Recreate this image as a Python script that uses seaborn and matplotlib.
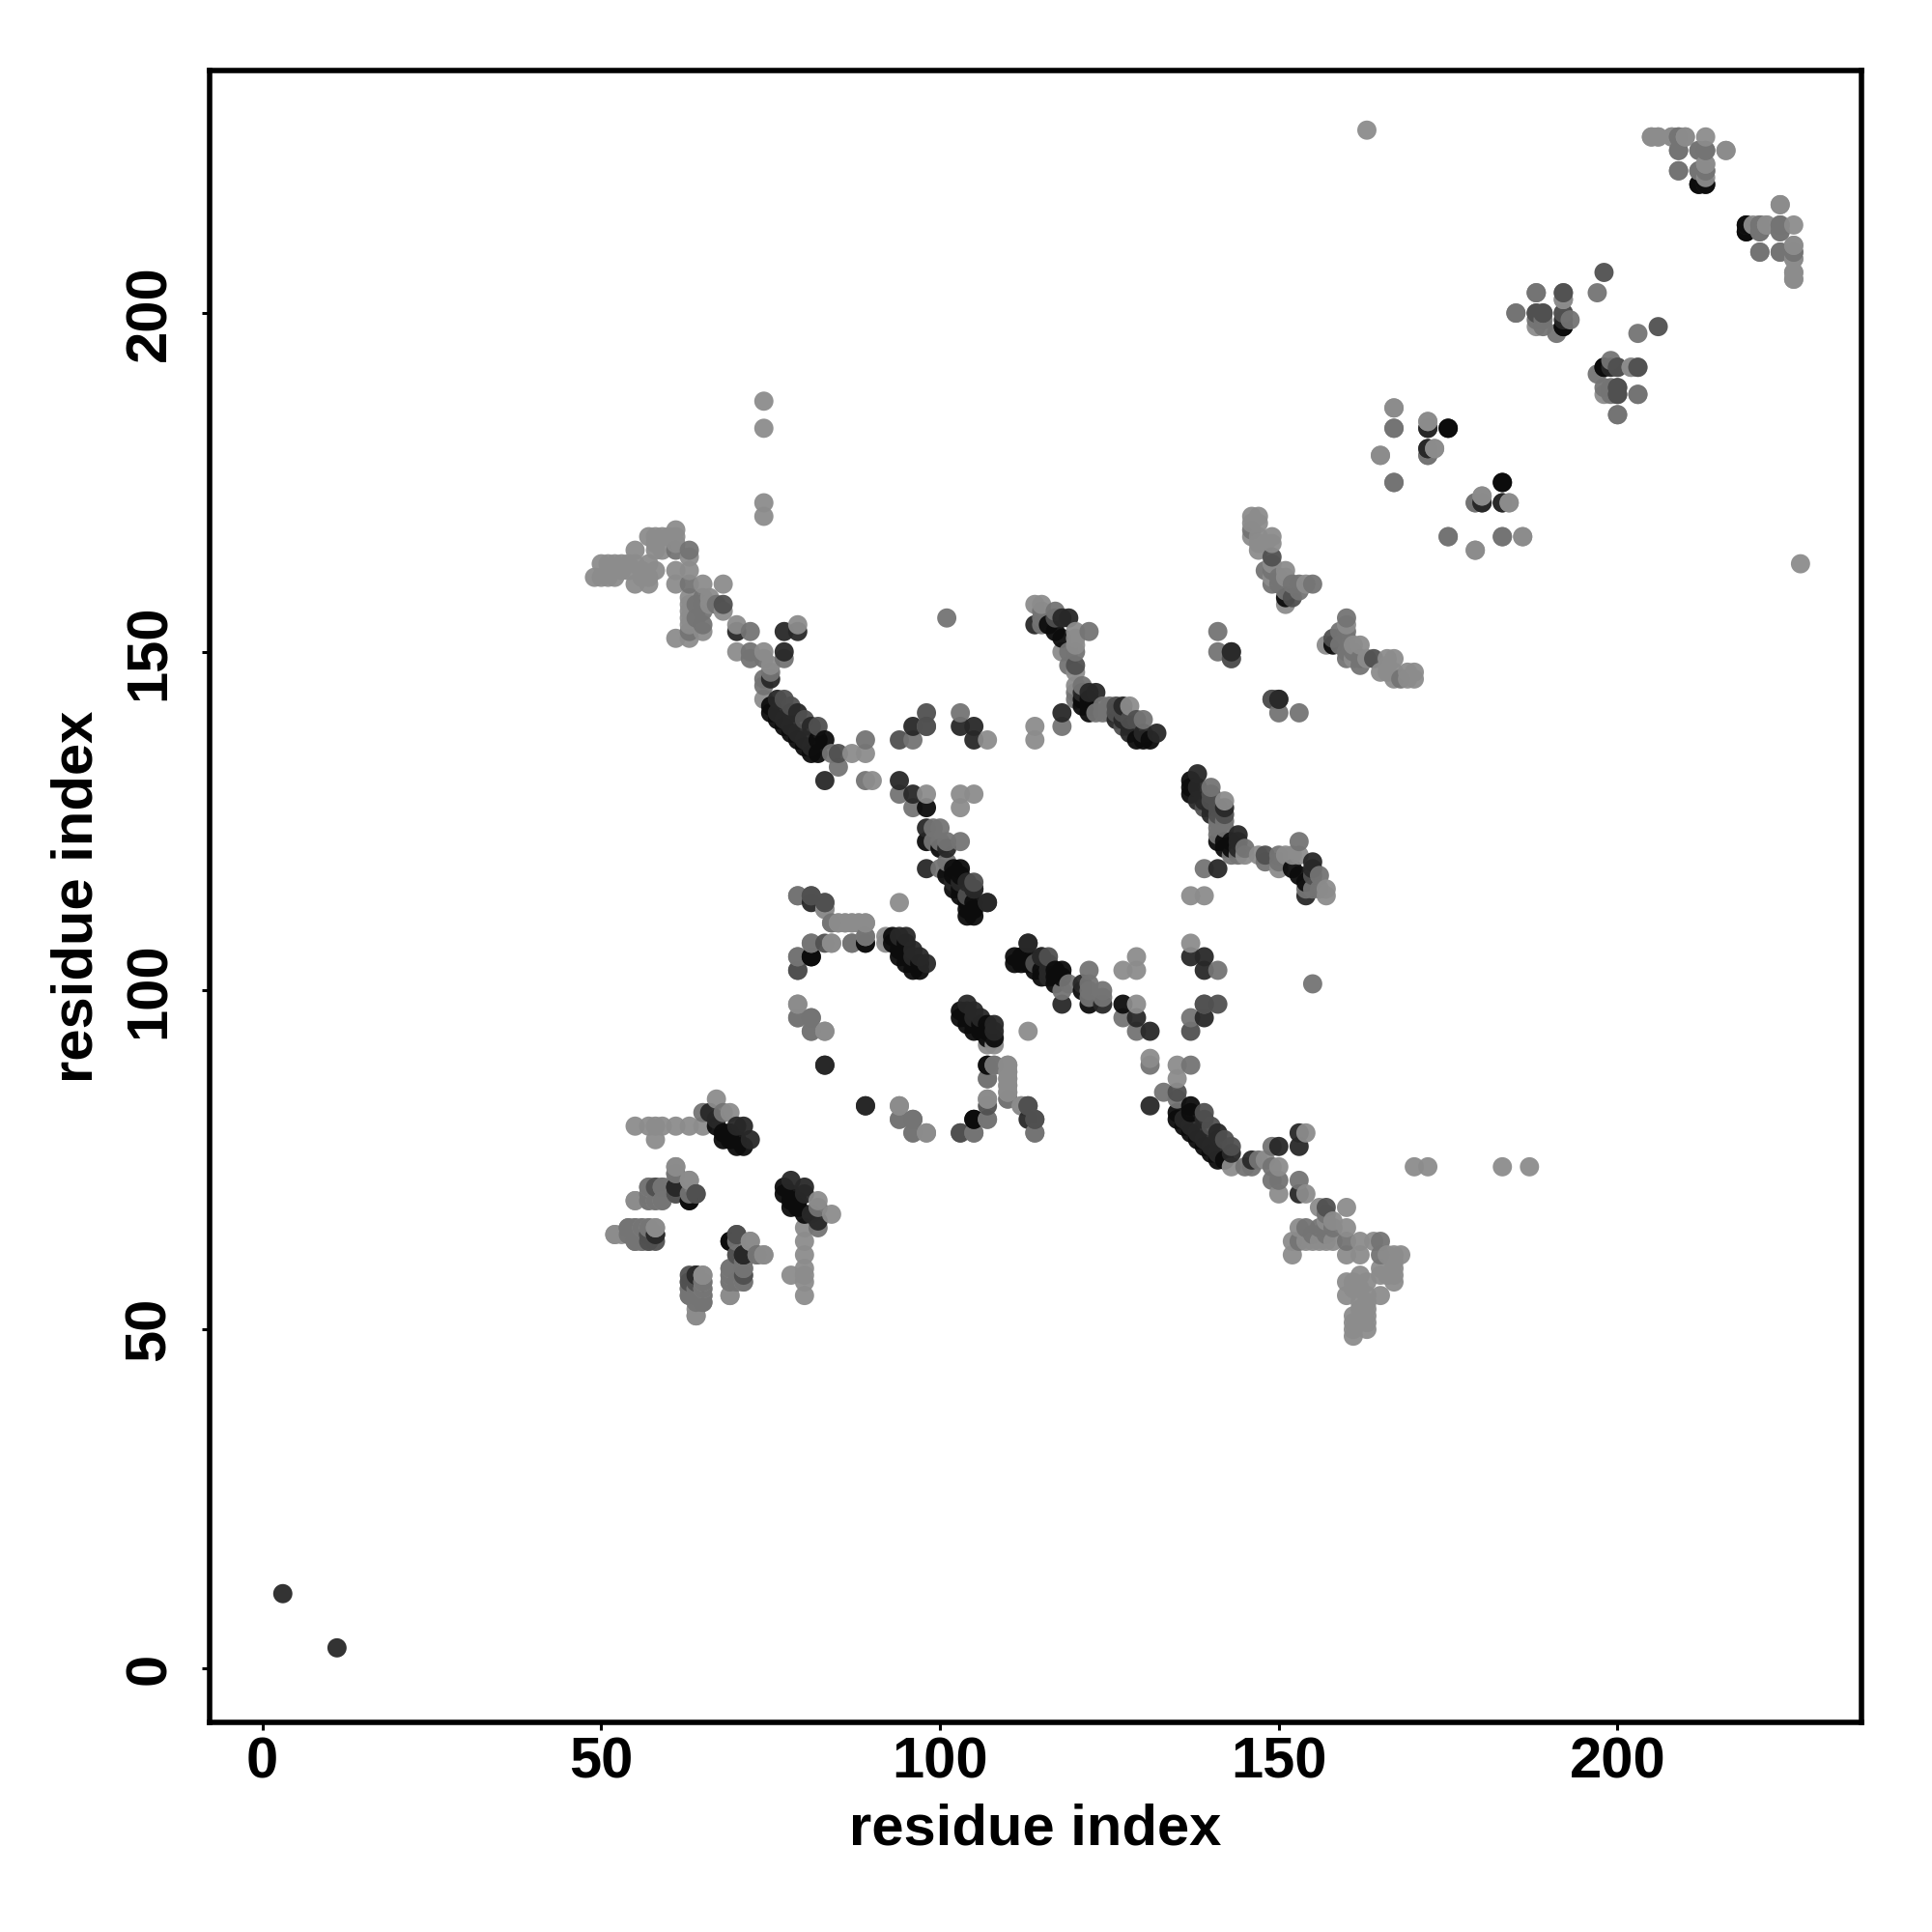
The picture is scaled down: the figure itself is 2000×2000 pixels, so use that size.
import pandas as pd
import seaborn as sns
import matplotlib.pyplot as plt

# contacts (i, j) with i < j, grouped by grey level
light = [
    (74,170),(74,172),(74,183),(74,187),(61,168),(57,167),(58,167),(59,167),(60,167),(55,165),(58,166),(59,165),(58,165),
    (50,163),(51,163),(52,163),(53,163),(49,161),(50,161),(51,161),(52,161),(55,160),(57,160),(56,162),(58,162),(57,161),(56,161),
    (53,162),(54,162),(57,163),(54,163),(55,163),(61,160),(61,162),(63,162),(63,164),(61,166),(61,167),(65,160),(68,160),
    (63,158),(63,157),(63,156),(63,155),(66,158),(68,156),(63,154),(61,152),(63,152),(65,153),(70,154),(70,150),(66,157),
    (74,150),(79,154),(75,148),(74,143),(87,135),(89,135),(90,131),(98,129),(103,129),(103,127),
    (107,137),(114,139),(114,137),(84,110),(85,110),(86,110),(87,110),(88,110),(89,110),(83,112),(94,113),
    (84,107),(81,107),(89,108),(92,108),(92,107),(79,98),(79,96),(83,94),(94,83),(94,81),(98,79),
    (107,84),(110,89),(110,88),(110,87),(110,86),(110,85),(112,83),(55,80),(57,80),(58,80),(59,80),(61,80),(63,80),(65,80),
    (58,78),(67,84),(69,82),(61,74),(63,72),(57,71),(55,69),(57,69),(52,64),(58,65),(72,63),(70,61),(74,61),
    (69,59),(69,58),(69,55),(65,58),(65,57),(65,56),(64,52),(64,53),(115,157),(114,157),(120,153),(120,152),(120,151),(118,150),(120,147),
    (128,142),(146,170),(147,170),(146,169),(147,169),(146,167),(147,167),(147,166),(149,167),(149,166),(147,165),(148,166),(149,163),
    (151,162),(149,161),(151,161),(154,160),(151,157),(167,186),(165,179),(172,184),(184,172),
    (186,167),(179,165),(173,180),(180,173),(188,198),(192,202),(202,192),(205,226),(206,226),(208,226),
    (210,226),(213,226),(212,224),(216,224),(213,222),(213,220),(226,205),(226,206),(226,208),(226,210),
    (224,216),(222,213),(163,227),(105,129),(120,145),
]
mid = [
    (63,165),(61,165),(63,160),(65,158),(67,157),(65,157),(65,156),(63,153),(65,154),(72,153),(72,150),(72,149),(64,157),(64,155),
    (77,149),(74,149),(74,146),(75,147),(74,145),(84,135),(85,133),(89,137),(89,131),(94,129),(96,137),
    (96,127),(98,139),(103,141),(118,139),(99,124),(100,124),(101,122),(103,122),(100,118),(101,119),(99,122),(100,122),
    (79,114),(87,107),(79,105),(81,96),(81,94),(96,81),(96,79),(105,79),(107,81),(107,87),(108,89),(110,84),
    (114,79),(65,82),(68,82),(61,73),(63,70),(58,71),(59,71),(60,71),(58,69),(59,69),(54,65),(55,65),(56,65),(57,65),
    (55,64),(56,64),(55,63),(56,63),(57,63),(73,61),(71,59),(69,57),(70,57),(71,57),(63,55),(65,54),(64,54),(64,56),(63,56),(65,55),(64,55),
    (117,156),(115,156),(115,155),(115,154),(122,153),(119,150),(120,150),(119,148),(121,145),(120,144),(120,143),(124,142),(125,142),(124,141),(125,141),
    (123,141),(130,140),(141,153),(141,150),(143,149),(146,168),(149,162),(149,160),(151,159),(152,160),(153,159),(153,160),(150,161),(150,160),(148,162),
    (167,183),(172,179),(179,172),(175,167),(183,167),(167,175),(188,203),(185,200),(189,199),(189,198),(193,199),(191,197),
    (197,203),(203,192),(199,188),(200,185),(203,188),(209,226),(209,224),(213,224),(209,221),(212,221),(213,221),
    (221,213),(224,213),(224,212),(221,212),(221,209),(224,209),(226,209),(155,160),(101,155),
]
dark_mid = [
    (68,157),(77,143),(85,135),(98,141),(94,137),(98,139),(79,103),(81,114),(83,113),(83,107),(64,70),(61,70),(61,71),
    (70,64),(71,58),(63,57),(58,64),(57,64),(117,155),(120,148),(126,142),(129,140),(127,141),(128,140),(149,164),(149,143),(143,150),(152,158),
    (192,203),(192,200),(188,200),(189,200),(198,206),(200,192),(200,189),(200,188),(103,79),(113,83),(89,107),(114,81),
    (78,142),(80,140),(82,139),(126,141),(127,139),(105,116),(104,114),(64,58),(64,57),(63,58),
]
dark = [
    (77,150),(77,153),(79,153),(70,153),(75,146),(76,143),(78,141),(79,141),(81,139),(83,131),(96,139),(103,139),(105,139),
    (105,137),(118,141),(94,131),(96,129),(98,124),(98,118),(101,121),(105,115),(107,113),(94,108),(95,108),(97,105),(98,104),
    (113,107),(115,105),(89,83),(83,89),(67,81),(66,82),(70,80),(71,80),(72,78),(61,71),(69,63),(71,61),(64,58),(113,81),
    (118,155),(119,155),(114,154),(121,144),(122,144),(123,144),(127,142),(127,140),(128,138),(132,138),(150,143),(128,139),(130,138),(126,140),
    (172,183),(172,180),(180,172),(183,172),(192,199),(3,11),(219,213),(96,105),(96,106),(104,116),(103,116),(102,116),
    (76,141),(77,140),(78,139),(79,138),(80,137),(81,136),
]
black = [
    (75,142),(75,141),(76,140),(77,139),(78,138),(79,137),(80,136),(81,135),(82,135),(82,137),(83,137),(98,127),
    (98,122),(100,121),(103,118),(102,118),(101,117),(102,117),(103,117),(102,115),(103,115),(103,114),(104,113),(105,113),(104,112),(104,111),(105,112),(105,111),
    (93,108),(93,107),(94,107),(95,107),(94,105),(95,105),(95,106),(94,106),(96,104),(95,104),(96,103),(97,103),(97,104),(81,105),(105,81),(107,89),
    (67,80),(68,79),(69,79),(70,78),(70,77),(71,77),(69,78),(68,78),(63,69),(116,154),(117,153),(118,152),(121,143),(122,143),(122,142),(122,141),(121,142),
    (129,137),(130,137),(131,137),(175,183),(183,175),(192,198),(198,192),(212,219),(213,219),(219,212),(151,158),
]
x_ticks = [0, 50, 100, 150, 200]

greys = {"light": "#8c8c8c", "mid": "#747474", "dark_mid": "#505050", "dark": "#282828", "black": "#0c0c0c"}

rows = []
for level, pairs in [("light", light), ("mid", mid), ("dark_mid", dark_mid), ("dark", dark), ("black", black)]:
    for i, j in pairs:
        rows.append((i, j, level))
        rows.append((j, i, level))
df = pd.DataFrame(rows, columns=["x", "y", "level"]).sort_values(["x", "y"], kind="stable")

sns.set_theme(style="white")
plt.rcParams["font.family"] = ["Liberation Sans", "DejaVu Sans"]

fig = plt.figure(figsize=(20, 20), dpi=100)
ax = fig.add_axes([217 / 2000, 1 - 1783 / 2000, 1710 / 2000, 1710 / 2000])

sns.scatterplot(data=df, x="x", y="y", hue="level", palette=greys, s=205,
                linewidth=0, alpha=0.95, legend=False, ax=ax)

ax.set_xlim(-7.8, 236)
ax.set_ylim(-8, 235.8)
ax.set_xticks(x_ticks)
ax.set_yticks(x_ticks)
ax.tick_params(axis="x", direction="out", length=6, width=2.2, color="black", bottom=True,
               labelsize=43, labelcolor="black", pad=4.5)
ax.tick_params(axis="y", direction="out", length=6, width=2.2, color="black", left=True,
               labelsize=43, labelcolor="black", pad=18.5)
plt.setp(ax.get_xticklabels(), fontweight="bold")
plt.setp(ax.get_yticklabels(), fontweight="bold", rotation=90, va="center")
ax.set_xlabel("residue index", fontsize=43, fontweight="bold", color="black", labelpad=10)
ax.set_ylabel("residue index", fontsize=43, fontweight="bold", color="black", labelpad=14.5)
for spine in ax.spines.values():
    spine.set_linewidth(4)
    spine.set_color("black")

fig.savefig("out.png", dpi=100, facecolor="white")
